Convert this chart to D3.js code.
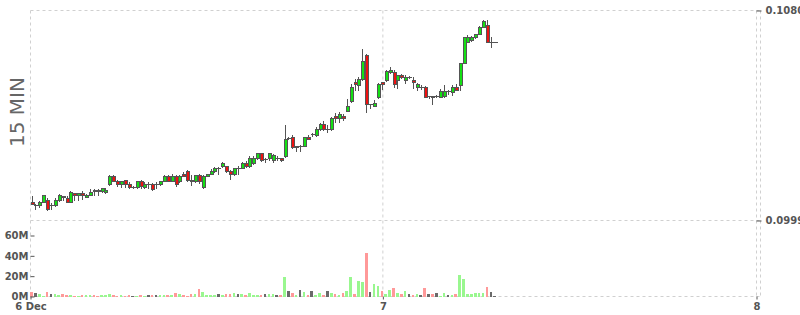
<!DOCTYPE html>
<html lang="en">
<head>
<meta charset="utf-8">
<title>15 MIN candles</title>
<script src="https://cdn.jsdelivr.net/npm/d3@7"></script>
<style>
body { margin: 0; background: #fff; }
text { font-family: "DejaVu Sans", Verdana, sans-serif; }
.axis text { font-size: 10px; font-weight: bold; fill: #555; }
.axis line { stroke: #555; }
.axis path { display: none; }
.grid line { stroke: #d0d0d0; stroke-dasharray: 3,3; }
</style>
</head>
<body>
<svg id="chart" width="800" height="315"></svg>
<script>
// 15 minute candles, first one on 6 Dec early morning
var firstCandle = new Date(2021, 11, 6, 1, 26);
var xStart = new Date(2021, 11, 6, 1, 22);
var xEnd = new Date(2021, 11, 8, 0, 0);

var open = [
.10059,.10048,.10048,.10059,.10067,.10048,.10048,.10067,.10083,.10075,
.10059,.10094,.10086,.10094,.10079,.10086,.10106,.10106,.10102,.10098,
.10129,.10160,.10140,.10129,.10144,.10129,.10117,.10117,.10140,.10117,
.10129,.10129,.10129,.10129,.10140,.10160,.10140,.10160,.10140,.10167,
.10179,.10144,.10140,.10164,.10117,.10160,.10167,.10179,.10191,.10198,
.10198,.10179,.10167,.10191,.10191,.10210,.10198,.10210,.10229,.10248,
.10225,.10229,.10221,.10229,.10229,.10237,.10306,.10310,.10272,.10275,
.10275,.10310,.10322,.10318,.10341,.10360,.10341,.10341,.10391,.10383,
.10391,.10410,.10449,.10522,.10511,.10534,.10626,.10437,.10430,.10464,
.10522,.10530,.10561,.10561,.10530,.10549,.10530,.10542,.10530,.10503,
.10503,.10503,.10468,.10468,.10468,.10464,.10468,.10488,.10484,.10503,
.10511,.10596,.10677,.10684,.10696,.10707,.10734,.10742,.10677,.10677];

var high = [
.10086,.10052,.10067,.10090,.10075,.10056,.10075,.10094,.10086,.10083,
.10102,.10098,.10098,.10102,.10094,.10110,.10113,.10110,.10117,.10117,
.10164,.10164,.10148,.10144,.10148,.10137,.10125,.10144,.10148,.10137,
.10140,.10133,.10137,.10144,.10167,.10164,.10171,.10167,.10164,.10179,
.10183,.10164,.10167,.10171,.10164,.10171,.10187,.10198,.10198,.10214,
.10202,.10183,.10194,.10202,.10214,.10218,.10237,.10237,.10252,.10252,
.10233,.10252,.10245,.10237,.10233,.10360,.10314,.10318,.10279,.10283,
.10314,.10318,.10329,.10349,.10368,.10372,.10360,.10391,.10403,.10407,
.10399,.10457,.10515,.10534,.10545,.10653,.10634,.10441,.10453,.10522,
.10526,.10572,.10584,.10569,.10553,.10557,.10553,.10549,.10542,.10522,
.10511,.10507,.10472,.10472,.10476,.10499,.10511,.10495,.10511,.10515,
.10596,.10696,.10704,.10700,.10711,.10742,.10765,.10765,.10696,.10680];

var low = [
.10048,.10032,.10040,.10056,.10025,.10029,.10044,.10063,.10067,.10056,
.10056,.10067,.10067,.10071,.10075,.10083,.10083,.10086,.10098,.10094,
.10125,.10137,.10121,.10117,.10117,.10110,.10110,.10113,.10110,.10113,
.10110,.10102,.10113,.10125,.10137,.10137,.10137,.10121,.10133,.10156,
.10137,.10125,.10133,.10129,.10113,.10156,.10164,.10175,.10167,.10194,
.10175,.10148,.10160,.10164,.10187,.10194,.10194,.10206,.10225,.10214,
.10210,.10221,.10210,.10218,.10214,.10233,.10299,.10264,.10256,.10256,
.10272,.10299,.10314,.10314,.10337,.10337,.10329,.10337,.10368,.10368,
.10372,.10407,.10445,.10488,.10488,.10530,.10403,.10422,.10426,.10457,
.10495,.10526,.10557,.10503,.10499,.10534,.10515,.10534,.10499,.10491,
.10495,.10461,.10457,.10437,.10461,.10461,.10464,.10476,.10472,.10488,
.10488,.10592,.10673,.10677,.10692,.10704,.10731,.10673,.10657,.10673];

var close = [
.10052,.10048,.10059,.10086,.10032,.10048,.10067,.10086,.10079,.10059,
.10098,.10086,.10094,.10086,.10086,.10098,.10102,.10102,.10113,.10106,
.10160,.10140,.10129,.10140,.10129,.10117,.10117,.10140,.10121,.10129,
.10129,.10110,.10129,.10140,.10160,.10140,.10160,.10129,.10160,.10160,
.10144,.10140,.10164,.10140,.10160,.10167,.10179,.10191,.10191,.10210,
.10179,.10167,.10191,.10191,.10210,.10198,.10229,.10229,.10248,.10221,
.10225,.10248,.10241,.10229,.10221,.10302,.10306,.10272,.10275,.10275,
.10310,.10302,.10322,.10341,.10360,.10341,.10341,.10383,.10383,.10399,
.10383,.10430,.10503,.10515,.10534,.10603,.10437,.10437,.10441,.10515,
.10515,.10565,.10569,.10515,.10549,.10542,.10542,.10542,.10522,.10515,
.10503,.10464,.10468,.10464,.10468,.10488,.10488,.10488,.10503,.10491,
.10596,.10696,.10696,.10696,.10707,.10734,.10758,.10677,.10677,.10677];

// volume in millions
var volume = [
4,3.3,2,0.3,4,2,2,1,2,1.3,
1,0.2,0.3,1,1,1,1,0.3,1,1.3,
2,1.3,0.7,1.3,0.7,1.3,0.7,0.7,1.3,0.7,
1,1,1,1,1,1,1,3,2,1,
0.3,2,2,7,4,1,1,1,2,1,
2,2,3,2,2,1,3,1,1,1,
2,2,2,1,1,19,5,3,1,6,
4,1,5,1,3,1,5,3,2,1,
3,5,19,2,15,14,43,4,12,10,
5,2.7,6.7,8.7,3.7,2.7,5.7,2.7,1.7,2.7,
1.7,8.7,2.7,2.7,3.7,0.7,3.7,1.7,1.7,2.7,
20.7,17.7,2.7,2.7,3.7,3.7,3.7,9.7,4.7,0.3];

var priceTicks = [0.0999, 0.1080];
var volumeTicks = [0, 20, 40, 60];
var dayTicks = [xStart, new Date(2021, 11, 7), new Date(2021, 11, 8)];
var dayLabels = ["6 Dec", "7", "8"];

var data = open.map(function(o, i) {
    return {
        date: new Date(firstCandle.getTime() + i * 15 * 60000),
        o: o, h: high[i], l: low[i], c: close[i], v: volume[i]
    };
});

var svg = d3.select("#chart");

var x = d3.scaleTime().domain([xStart, xEnd]).range([30.5, 756.5]);
var y = d3.scaleLinear().domain([0.0999, 0.1080]).range([220.5, 10.5]);
var yv = d3.scaleLinear().domain([0, 60]).range([296.5, 235.5]);

// dashed grid
var grid = svg.append("g").attr("class", "grid");
grid.selectAll("line.h")
    .data([y(priceTicks[0]), y(priceTicks[1]), yv(0)])
    .join("line")
    .attr("x1", 30.5).attr("x2", 760.5)
    .attr("y1", function(d) { return d; })
    .attr("y2", function(d) { return d; });
grid.selectAll("line.v")
    .data(dayTicks.map(function(d) { return x(d); }).concat([760.5]))
    .join("line")
    .attr("x1", function(d) { return d; })
    .attr("x2", function(d) { return d; })
    .attr("y1", 10.5).attr("y2", 296.5);

// title
svg.append("text")
    .attr("transform", "translate(24,112) rotate(-90)")
    .attr("text-anchor", "middle")
    .attr("font-size", 20)
    .attr("fill", "#666")
    .text("15 MIN");

// volume bars
var colorOf = function(d, up, down, flat) {
    return d.c > d.o ? up : (d.c < d.o ? down : flat);
};
svg.append("g")
    .attr("shape-rendering", "crispEdges")
    .selectAll("rect")
    .data(data)
    .join("rect")
    .attr("x", function(d) { return x(d.date) - 1.3; })
    .attr("width", 2.6)
    .attr("y", function(d) { return yv(d.v); })
    .attr("height", function(d) { return yv(0) - yv(d.v); })
    .attr("fill", function(d) { return colorOf(d, "#99f78f", "#ff9999", "#6a6a6a"); });

// candles
var candles = svg.append("g").attr("shape-rendering", "crispEdges");
candles.selectAll("line.wick")
    .data(data)
    .join("line")
    .attr("class", "wick")
    .attr("x1", function(d) { return Math.round(x(d.date)) + 0.5; })
    .attr("x2", function(d) { return Math.round(x(d.date)) + 0.5; })
    .attr("y1", function(d) { return y(d.h); })
    .attr("y2", function(d) { return y(d.l); })
    .attr("stroke", "#555");
candles.selectAll("rect")
    .data(data.filter(function(d) { return d.o !== d.c; }))
    .join("rect")
    .attr("x", function(d) { return Math.round(x(d.date)) - 1; })
    .attr("width", 3)
    .attr("y", function(d) { return y(Math.max(d.o, d.c)); })
    .attr("height", function(d) { return Math.abs(y(d.o) - y(d.c)); })
    .attr("fill", function(d) { return colorOf(d, "#14e014", "#ee1111", "#555"); })
    .attr("stroke", "#555")
    .attr("stroke-width", 1);
candles.selectAll("line.doji")
    .data(data.filter(function(d) { return d.o === d.c; }))
    .join("line")
    .attr("class", "doji")
    .attr("x1", function(d) { return Math.round(x(d.date)) - 1.5; })
    .attr("x2", function(d) { return Math.round(x(d.date)) + 2.5; })
    .attr("y1", function(d) { return y(d.o); })
    .attr("y2", function(d) { return y(d.o); })
    .attr("stroke", "#555");

// price axis on the right
svg.append("g")
    .attr("class", "axis")
    .attr("transform", "translate(756.5,0)")
    .call(d3.axisRight(y).tickValues(priceTicks).tickSize(5).tickPadding(4)
        .tickFormat(d3.format(".4f")));

// volume axis, ticks pointing into the plot
svg.append("g")
    .attr("class", "axis")
    .attr("transform", "translate(30.5,0)")
    .call(d3.axisLeft(yv).tickValues(volumeTicks).tickSizeInner(-4).tickSizeOuter(0)
        .tickPadding(2).tickFormat(function(d) { return d + "M"; }));

// day axis
svg.append("g")
    .attr("class", "axis")
    .attr("transform", "translate(0,296.5)")
    .call(d3.axisBottom(x).tickValues(dayTicks).tickSize(3).tickPadding(3)
        .tickFormat(function(d, i) { return dayLabels[i]; }));
</script>
</body>
</html>
